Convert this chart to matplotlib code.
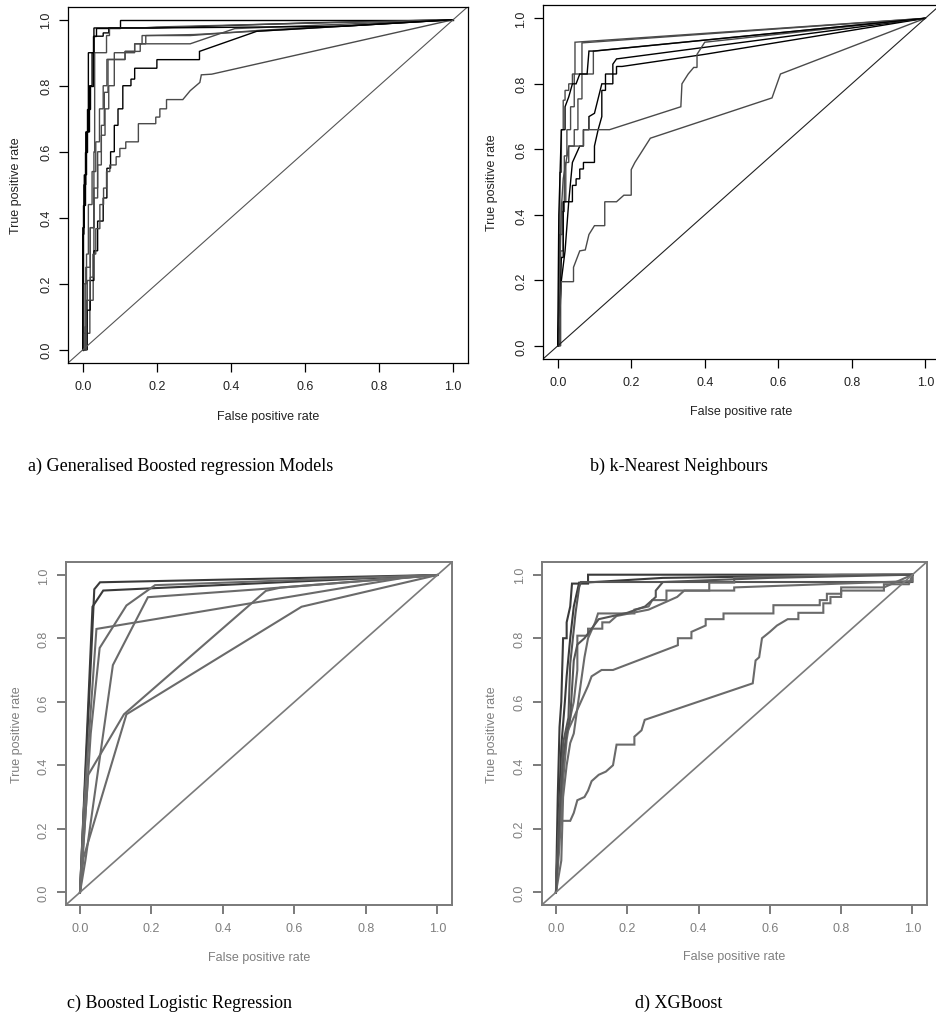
import numpy as np
import matplotlib
matplotlib.use("Agg")
import matplotlib.pyplot as plt

# ---- ROC vertices (fpr, tpr per fold) ----
gbm_fpr = [
    [0, 0, 0.005, 0.005, 0.012, 0.012, 0.02, 0.02, 0.027, 0.027, 0.035, 0.035, 0.10, 0.10, 1],
    [0, 0, 0.004, 0.004, 0.01, 0.01, 0.018, 0.018, 0.025, 0.025, 0.03, 0.03, 0.055, 0.055, 0.07, 0.07, 0.19, 0.6, 1],
    [0, 0.002, 0.002, 0.019, 0.019, 0.028, 0.028, 0.03, 0.03, 0.032, 0.032, 0.064, 0.064, 0.072, 0.072, 0.16, 0.2, 0.45, 1],
    [0, 0.003, 0.003, 0.01, 0.01, 0.015, 0.015, 0.025, 0.025, 0.035, 0.035, 0.045, 0.045, 0.055, 0.055, 0.065, 0.065, 0.114, 0.114, 0.155, 0.155, 0.29, 0.41, 1],
    [0, 0.008, 0.008, 0.02, 0.02, 0.03, 0.03, 0.04, 0.04, 0.05, 0.05, 0.06, 0.06, 0.07, 0.07, 0.085, 0.085, 0.14, 0.14, 0.16, 0.16, 0.29, 0.48, 1],
    [0, 0.006, 0.006, 0.012, 0.012, 0.02, 0.02, 0.03, 0.03, 0.04, 0.04, 0.05, 0.05, 0.058, 0.058, 0.068, 0.068, 0.114, 0.114, 0.14, 0.14, 0.17, 0.17, 0.3, 0.55, 1],
    [0, 0.012, 0.012, 0.02, 0.02, 0.03, 0.03, 0.04, 0.04, 0.055, 0.055, 0.065, 0.065, 0.075, 0.075, 0.085, 0.085, 0.095, 0.095, 0.108, 0.108, 0.13, 0.13, 0.14, 0.14, 0.2, 0.2, 0.315, 0.315, 0.47, 1],
    [0, 0.01, 0.01, 0.02, 0.02, 0.028, 0.028, 0.035, 0.035, 0.046, 0.046, 0.056, 0.056, 0.064, 0.064, 0.073, 0.073, 0.09, 0.09, 0.1, 0.1, 0.116, 0.116, 0.15, 0.15, 0.197, 0.197, 0.208, 0.208, 0.226, 0.226, 0.27, 0.29, 0.316, 0.32, 0.348, 1],
    [0, 0, 0.003, 0.003, 0.008, 0.008, 0.015, 0.015, 0.03, 0.03, 0.2, 0.7, 1],
]
gbm_tpr = [
    [0, 0.44, 0.44, 0.6, 0.6, 0.73, 0.73, 0.8, 0.8, 0.95, 0.95, 0.975, 0.975, 1, 1],
    [0, 0.37, 0.37, 0.53, 0.53, 0.66, 0.66, 0.8, 0.8, 0.9, 0.9, 0.95, 0.95, 0.96, 0.96, 0.975, 0.975, 0.99, 1],
    [0, 0, 0.05, 0.05, 0.15, 0.15, 0.29, 0.29, 0.6, 0.6, 0.9, 0.9, 0.952, 0.952, 0.975, 0.975, 0.978, 0.985, 1],
    [0, 0, 0.2, 0.2, 0.29, 0.29, 0.44, 0.44, 0.54, 0.54, 0.63, 0.63, 0.73, 0.73, 0.8, 0.8, 0.88, 0.88, 0.904, 0.904, 0.927, 0.927, 0.973, 1],
    [0, 0, 0.25, 0.25, 0.37, 0.37, 0.46, 0.46, 0.56, 0.56, 0.65, 0.65, 0.73, 0.73, 0.8, 0.8, 0.9, 0.9, 0.927, 0.927, 0.952, 0.952, 0.968, 1],
    [0, 0, 0.07, 0.07, 0.21, 0.21, 0.37, 0.37, 0.49, 0.49, 0.6, 0.6, 0.68, 0.68, 0.78, 0.78, 0.879, 0.879, 0.904, 0.904, 0.927, 0.927, 0.952, 0.955, 0.97, 1],
    [0, 0, 0.12, 0.12, 0.21, 0.21, 0.3, 0.3, 0.39, 0.39, 0.46, 0.46, 0.55, 0.55, 0.6, 0.6, 0.68, 0.68, 0.73, 0.73, 0.8, 0.8, 0.82, 0.82, 0.853, 0.853, 0.879, 0.879, 0.904, 0.965, 1],
    [0, 0, 0.15, 0.15, 0.22, 0.22, 0.29, 0.29, 0.367, 0.367, 0.44, 0.44, 0.49, 0.49, 0.54, 0.54, 0.56, 0.56, 0.585, 0.585, 0.61, 0.61, 0.63, 0.63, 0.685, 0.685, 0.705, 0.705, 0.73, 0.73, 0.758, 0.758, 0.785, 0.81, 0.833, 0.835, 1],
    [0, 0.35, 0.35, 0.5, 0.5, 0.66, 0.66, 0.9, 0.9, 0.975, 0.975, 0.98, 1],
]
gbm_col = ["black", "black", "#4a4a4a", "#4a4a4a", "#4a4a4a", "#4a4a4a", "black", "#4a4a4a", "black"]

knn_fpr = [
    [0, 0.003, 0.003, 0.006, 0.006, 0.01, 0.01, 0.015, 0.015, 0.02, 0.02, 0.03, 0.03, 0.04, 0.04, 0.047, 0.047, 1],
    [0, 0.005, 0.005, 0.012, 0.012, 0.018, 0.018, 0.025, 0.025, 0.035, 0.035, 0.045, 0.045, 0.066, 0.066, 1],
    [0, 0.008, 0.008, 0.015, 0.015, 0.022, 0.022, 0.03, 0.03, 0.045, 0.045, 0.055, 0.055, 0.066, 0.066, 0.097, 0.097, 1],
    [0, 0.005, 0.01, 0.015, 0.015, 0.04, 0.04, 0.05, 0.05, 0.06, 0.06, 0.07, 0.07, 0.1, 0.1, 0.11, 0.12, 0.12, 0.13, 0.13, 0.15, 0.15, 0.16, 1],
    [0, 0.01, 0.02, 0.03, 0.04, 0.06, 0.07, 0.07, 0.085, 0.085, 0.1, 0.12, 0.13, 0.13, 0.16, 0.16, 0.175, 0.4, 1],
    [0, 0.005, 0.01, 0.015, 0.03, 0.07, 0.07, 0.107, 0.141, 0.335, 0.338, 0.355, 0.37, 0.379, 0.379, 0.4, 1],
    [0, 0.005, 0.01, 0.043, 0.043, 0.06, 0.075, 0.085, 0.1, 0.128, 0.128, 0.16, 0.18, 0.2, 0.2, 0.21, 0.252, 0.583, 0.606, 1],
    [0, 0.003, 0.01, 0.02, 0.02, 0.03, 0.04, 0.05, 0.06, 0.08, 0.085, 0.1, 1],
]
knn_tpr = [
    [0, 0, 0.2, 0.2, 0.53, 0.53, 0.66, 0.66, 0.75, 0.75, 0.78, 0.78, 0.8, 0.8, 0.83, 0.83, 0.927, 1],
    [0, 0, 0.34, 0.34, 0.41, 0.41, 0.58, 0.58, 0.66, 0.66, 0.73, 0.73, 0.83, 0.83, 0.925, 1],
    [0, 0, 0.29, 0.29, 0.44, 0.44, 0.56, 0.56, 0.61, 0.61, 0.66, 0.66, 0.754, 0.754, 0.83, 0.83, 0.9, 1],
    [0, 0.13, 0.27, 0.27, 0.44, 0.44, 0.49, 0.49, 0.51, 0.51, 0.54, 0.54, 0.56, 0.56, 0.61, 0.66, 0.7, 0.78, 0.78, 0.8, 0.8, 0.86, 0.876, 1],
    [0, 0.2, 0.29, 0.44, 0.56, 0.61, 0.61, 0.66, 0.66, 0.7, 0.71, 0.8, 0.8, 0.83, 0.83, 0.853, 0.853, 0.89, 1],
    [0, 0.2, 0.42, 0.51, 0.61, 0.61, 0.66, 0.66, 0.66, 0.73, 0.8, 0.83, 0.85, 0.85, 0.89, 0.927, 1],
    [0, 0.07, 0.196, 0.196, 0.24, 0.29, 0.293, 0.34, 0.367, 0.367, 0.44, 0.44, 0.46, 0.46, 0.538, 0.56, 0.634, 0.757, 0.83, 1],
    [0, 0.4, 0.66, 0.66, 0.73, 0.76, 0.8, 0.8, 0.83, 0.83, 0.9, 0.9, 1],
]
knn_col = ["#4a4a4a", "#4a4a4a", "#4a4a4a", "black", "black", "#4a4a4a", "#4a4a4a", "black"]

blr_fpr = [
    [0, 0.04, 0.056, 1],
    [0, 0.035, 0.065, 1],
    [0, 0.01, 0.046, 0.9, 1],
    [0, 0.01, 0.03, 0.055, 0.13, 0.21, 1],
    [0, 0.015, 0.092, 0.19, 0.5, 1],
    [0, 0.023, 0.123, 0.52, 0.56, 1],
    [0, 0.01, 0.13, 0.62, 1],
]
blr_tpr = [
    [0, 0.955, 0.977, 1],
    [0, 0.9, 0.951, 1],
    [0, 0.25, 0.83, 0.99, 1],
    [0, 0.15, 0.5, 0.77, 0.904, 0.968, 1],
    [0, 0.1, 0.716, 0.93, 0.955, 1],
    [0, 0.37, 0.561, 0.95, 0.96, 1],
    [0, 0.11, 0.561, 0.9, 1],
]
blr_col = ["#3a3a3a", "#3a3a3a", "#6a6a6a", "#6a6a6a", "#6a6a6a", "#6a6a6a", "#6a6a6a"]

xgb_fpr = [
    [0, 0.005, 0.01, 0.015, 0.02, 0.03, 0.03, 0.04, 0.045, 0.09, 0.09, 1],
    [0, 0.008, 0.015, 0.025, 0.03, 0.04, 0.05, 0.06, 0.065, 0.08, 0.3, 0.92, 1],
    [0, 0.01, 0.02, 0.035, 0.04, 0.055, 0.065, 0.07, 1, 1],
    [0, 0.015, 0.02, 0.03, 0.04, 0.05, 0.06, 0.07, 0.08, 0.09, 0.11, 0.118, 0.22, 0.22, 0.26, 0.27, 0.31, 0.31, 0.43, 0.43, 0.5, 0.5, 0.8, 1],
    [0, 0.01, 0.02, 0.03, 0.04, 0.05, 0.06, 0.06, 0.09, 0.09, 0.13, 0.13, 0.15, 0.17, 0.26, 0.3, 0.34, 0.36, 0.5, 0.5, 1, 1],
    [0, 0.01, 0.02, 0.03, 0.05, 0.07, 0.09, 0.1, 0.128, 0.16, 0.342, 0.342, 0.38, 0.38, 0.42, 0.42, 0.47, 0.47, 0.61, 0.61, 0.74, 0.74, 0.76, 0.76, 0.8, 0.8, 0.92, 1],
    [0, 0.01, 0.016, 0.04, 0.05, 0.06, 0.08, 0.09, 0.1, 0.12, 0.14, 0.16, 0.17, 0.22, 0.22, 0.24, 0.249, 0.552, 0.56, 0.57, 0.578, 0.6, 0.62, 0.65, 0.68, 0.68, 0.75, 0.75, 0.77, 0.77, 0.8, 0.8, 0.92, 0.92, 0.99, 1],
    [0, 0.01, 0.02, 0.03, 0.04, 0.05, 0.06, 0.08, 0.12, 0.2, 0.25, 0.28, 0.28, 0.3, 0.6, 1],
]
xgb_tpr = [
    [0, 0.3, 0.52, 0.6, 0.8, 0.8, 0.85, 0.9, 0.972, 0.972, 1, 1],
    [0, 0.25, 0.46, 0.6, 0.68, 0.8, 0.9, 0.95, 0.975, 0.975, 0.99, 1, 1],
    [0, 0.2, 0.47, 0.55, 0.72, 0.88, 0.96, 0.977, 0.977, 1],
    [0, 0.1, 0.3, 0.4, 0.47, 0.5, 0.58, 0.66, 0.74, 0.8, 0.85, 0.878, 0.878, 0.89, 0.9, 0.92, 0.92, 0.95, 0.95, 0.975, 0.975, 0.99, 1, 1],
    [0, 0.15, 0.35, 0.48, 0.55, 0.6, 0.7, 0.808, 0.808, 0.83, 0.83, 0.85, 0.85, 0.87, 0.89, 0.91, 0.93, 0.95, 0.95, 0.96, 0.98, 1],
    [0, 0.25, 0.42, 0.5, 0.55, 0.6, 0.65, 0.68, 0.7, 0.7, 0.778, 0.8, 0.8, 0.82, 0.84, 0.86, 0.86, 0.878, 0.878, 0.904, 0.904, 0.92, 0.92, 0.94, 0.94, 0.96, 0.96, 1],
    [0, 0.2, 0.225, 0.225, 0.25, 0.29, 0.3, 0.32, 0.35, 0.37, 0.38, 0.4, 0.465, 0.465, 0.49, 0.51, 0.543, 0.658, 0.73, 0.74, 0.8, 0.82, 0.84, 0.86, 0.86, 0.88, 0.88, 0.91, 0.91, 0.93, 0.93, 0.95, 0.95, 0.97, 0.97, 1],
    [0, 0.25, 0.42, 0.5, 0.55, 0.73, 0.78, 0.8, 0.86, 0.88, 0.9, 0.93, 0.95, 0.977, 0.99, 1],
]
xgb_col = ["#3a3a3a", "#3a3a3a", "#555555", "#6a6a6a", "#6a6a6a", "#6a6a6a", "#6a6a6a", "#555555"]

ticks = [0.0, 0.2, 0.4, 0.6, 0.8, 1.0]
tick_labels = ["0.0", "0.2", "0.4", "0.6", "0.8", "1.0"]
captions = ["a) Generalised Boosted regression Models", "b) k-Nearest Neighbours",
            "c) Boosted Logistic Regression", "d) XGBoost"]

W, H = 936, 1020
fig = plt.figure(figsize=(W / 100, H / 100), dpi=100)


def px_axes(left, top, right, bottom):
    # pixel box -> figure fraction
    return fig.add_axes([left / W, 1 - bottom / H, (right - left) / W, (bottom - top) / H])


def r_style(ax, fprs, tprs, cols, lw, diag_col, fg, txt, lab_x, lab_y, box_lw):
    for f, t, c in zip(fprs, tprs, cols):
        ax.plot(f, t, color=c, lw=lw, solid_joinstyle="miter")
    ax.plot([-0.04, 1.04], [-0.04, 1.04], color=diag_col, lw=lw * 0.8)
    ax.set_xlim(-0.04, 1.04)
    ax.set_ylim(-0.04, 1.04)
    ax.set_xticks(ticks)
    ax.set_xticklabels(tick_labels)
    ax.set_yticks(ticks)
    ax.set_yticklabels(tick_labels, rotation=90, va="center")
    ax.tick_params(length=6.5, width=box_lw, color=fg, labelcolor=txt, labelsize=9,
                   direction="out")
    ax.tick_params(axis="x", pad=6)
    ax.tick_params(axis="y", pad=5)
    for s in ax.spines.values():
        s.set_color(fg)
        s.set_linewidth(box_lw)
    ax.set_xlabel("False positive rate", fontsize=9, color=txt, va="center")
    ax.set_ylabel("True positive rate", fontsize=9, color=txt, va="center")
    ax.xaxis.set_label_coords(0.5, lab_y)
    ax.yaxis.set_label_coords(lab_x, 0.5)
    for lbl in ax.get_xticklabels() + ax.get_yticklabels():
        lbl.set_family(["Liberation Sans", "DejaVu Sans"])
    ax.xaxis.label.set_family(["Liberation Sans", "DejaVu Sans"])
    ax.yaxis.label.set_family(["Liberation Sans", "DejaVu Sans"])


ax_a = px_axes(68, 7.5, 468, 364)
r_style(ax_a, gbm_fpr, gbm_tpr, gbm_col, 1.0, "#555555", "black", "#222222", -0.13, -0.148, 0.9)

# panel b runs off the right edge of the page in the original
ax_b = px_axes(543, 6.2, 940, 360)
r_style(ax_b, knn_fpr, knn_tpr, knn_col, 1.0, "#222222", "black", "#222222", -0.129, -0.147, 0.9)
ax_b.spines["right"].set_visible(False)

ax_c = px_axes(65.7, 563.3, 451.7, 906)
r_style(ax_c, blr_fpr, blr_tpr, blr_col, 1.5, "#7a7a7a", "#7a7a7a", "#7f7f7f", -0.127, -0.152, 1.4)

ax_d = px_axes(541.7, 563, 926.7, 906)
r_style(ax_d, xgb_fpr, xgb_tpr, xgb_col, 1.5, "#7a7a7a", "#7a7a7a", "#7f7f7f", -0.13, -0.149, 1.4)

cap_pos = [(28, 466), (590, 466), (67, 1003), (635, 1003)]
for (x, y), txt in zip(cap_pos, captions):
    fig.text(x / W, 1 - y / H, txt, fontsize=13, family=["Liberation Serif", "DejaVu Serif"],
             ha="left", va="center", color="black")

fig.savefig("out.png", dpi=100)
